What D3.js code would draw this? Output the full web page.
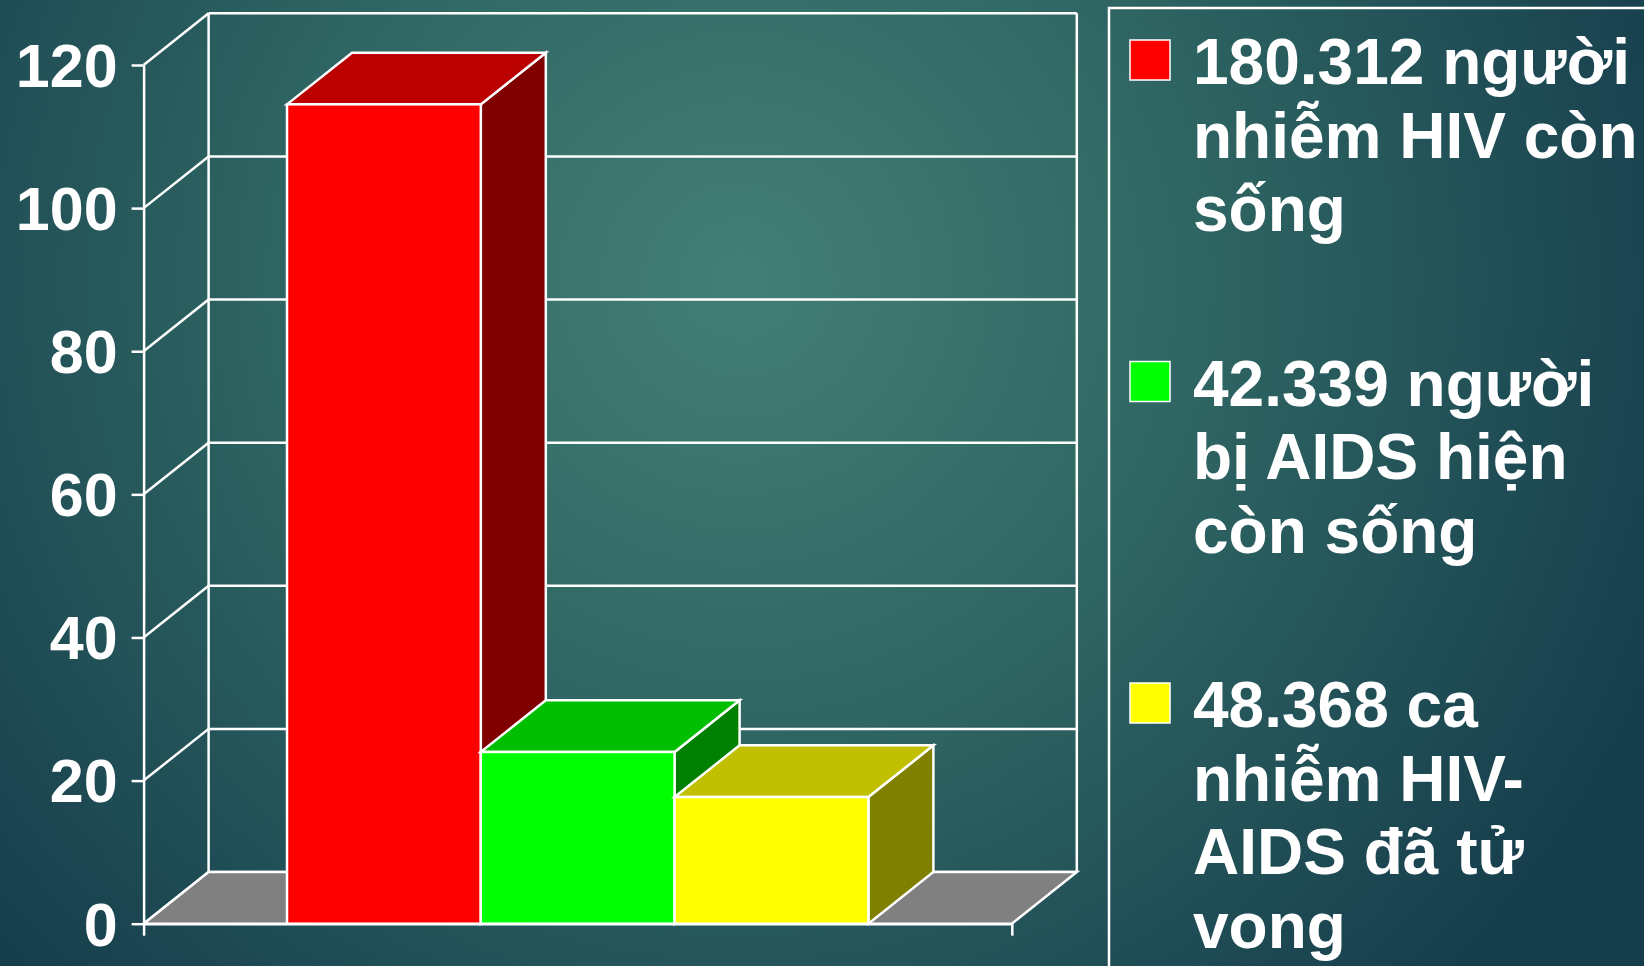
<!DOCTYPE html>
<html>
<head>
<meta charset="utf-8">
<script src="https://cdn.jsdelivr.net/npm/d3@7"></script>
<style>
  html, body { margin: 0; padding: 0; overflow: hidden; background: #1d4a55; }
  svg { display: block; }
  text { font-family: "Liberation Sans", Arial, sans-serif; font-weight: bold; }
</style>
</head>
<body>
<div id="chart"></div>
<script>
// data
const series = ["HIV còn sống", "AIDS còn sống", "Tử vong"];
const values = [114.5, 24.0, 17.7];
const yTicks = [0, 20, 40, 60, 80, 100, 120];
const legendLines = [
  ["180.312 người", "nhiễm HIV còn", "sống"],
  ["42.339 người", "bị AIDS hiện", "còn sống"],
  ["48.368 ca", "nhiễm HIV-", "AIDS đã tử", "vong"]
];

// colours: front, top, side faces
const frontColors = ["#ff0000", "#00ff00", "#ffff00"];
const topColors   = ["#bb0000", "#00bf00", "#c0c000"];
const sideColors  = ["#800000", "#008000", "#808000"];

const W = 1644, H = 966;
const x0 = 143.6, x1 = 1011.8;     // front floor edge
const yB = 923.7, yT = 65;         // front axis 0 and 120
const dx = 65, dy = 51.7;          // depth offset of the back wall
const lw = 2.5;

const svg = d3.select("#chart").append("svg")
  .attr("width", W).attr("height", H);

// background
const grad = svg.append("defs").append("radialGradient")
  .attr("id", "bg").attr("gradientUnits", "userSpaceOnUse")
  .attr("cx", 740).attr("cy", 280).attr("r", 1000);
grad.append("stop").attr("offset", 0).attr("stop-color", "#437f75");
grad.append("stop").attr("offset", 0.45).attr("stop-color", "#2f6663");
grad.append("stop").attr("offset", 1).attr("stop-color", "#163d4c");
svg.append("rect").attr("width", W).attr("height", H).attr("fill", "url(#bg)");

// scales
const y = d3.scaleLinear().domain([0, 120]).range([yB, yT]);
const xEdge = d3.scaleLinear().domain([0, 1]).range([x0, x1]);
const xBar = d3.scaleBand().domain(series).range([x0, x1])
  .paddingInner(0).paddingOuter(0.74);

// back wall grid lines and side wall diagonals
const grid = svg.append("g").attr("stroke", "#fff").attr("stroke-width", lw);
grid.selectAll("line.back").data(yTicks).join("line")
  .attr("class", "back")
  .attr("x1", x0 + dx).attr("x2", x1 + dx)
  .attr("y1", d => y(d) - dy).attr("y2", d => y(d) - dy);
grid.selectAll("line.side").data(yTicks).join("line")
  .attr("class", "side")
  .attr("x1", x0).attr("y1", d => y(d))
  .attr("x2", x0 + dx).attr("y2", d => y(d) - dy);
grid.selectAll("line.vert").data([x0 + dx, x1 + dx]).join("line")
  .attr("class", "vert")
  .attr("x1", d => d).attr("x2", d => d)
  .attr("y1", y(120) - dy).attr("y2", y(0) - dy);

// floor
svg.append("path")
  .attr("d", `M${x0},${yB}L${x1},${yB}L${x1 + dx},${yB - dy}L${x0 + dx},${yB - dy}Z`)
  .attr("fill", "#808080").attr("stroke", "#fff").attr("stroke-width", lw);

// axes
const yAxis = d3.axisLeft(y).tickValues(yTicks).tickSize(12).tickSizeOuter(0).tickPadding(14);
const yAxisDisplay = svg.append("g").attr("transform", `translate(${x0},0)`).call(yAxis);
yAxisDisplay.attr("color", "#fff").attr("font-size", 61)
  .attr("font-family", "'Liberation Sans', Arial, sans-serif");
yAxisDisplay.selectAll("line, path").attr("stroke-width", lw);
yAxisDisplay.selectAll("text").attr("dy", "0.35em").attr("font-weight", "bold");

const xAxis = d3.axisBottom(xEdge).tickValues([0, 1]).tickSize(12).tickSizeOuter(0).tickFormat("");
const xAxisDisplay = svg.append("g").attr("transform", `translate(0,${yB})`).call(xAxis);
xAxisDisplay.attr("color", "#fff");
xAxisDisplay.selectAll("line, path").attr("stroke-width", lw);

// 3D bars
const bw = xBar.bandwidth();
const bars = svg.selectAll("g.bar").data(series).join("g")
  .attr("class", "bar")
  .attr("stroke", "#fff").attr("stroke-width", lw).attr("stroke-linejoin", "miter");

bars.append("path") // side
  .attr("fill", (d, i) => sideColors[i])
  .attr("d", (d, i) => {
    const xr = xBar(d) + bw, yt = y(values[i]);
    return `M${xr},${yB}L${xr + dx},${yB - dy}L${xr + dx},${yt - dy}L${xr},${yt}Z`;
  });
bars.append("path") // top
  .attr("fill", (d, i) => topColors[i])
  .attr("d", (d, i) => {
    const xl = xBar(d), yt = y(values[i]);
    return `M${xl},${yt}L${xl + dx},${yt - dy}L${xl + bw + dx},${yt - dy}L${xl + bw},${yt}Z`;
  });
bars.append("rect") // front
  .attr("fill", (d, i) => frontColors[i])
  .attr("x", d => xBar(d)).attr("width", bw)
  .attr("y", (d, i) => y(values[i]))
  .attr("height", (d, i) => yB - y(values[i]));

// legend
const legend = svg.append("g");
legend.append("rect")
  .attr("x", 1109).attr("y", 8).attr("width", 700).attr("height", 1100)
  .attr("fill", "none").attr("stroke", "#fff").attr("stroke-width", lw);

const lineH = 73.5;
const itemY = d3.scalePoint().domain(series).range([84, 727]);
const items = legend.selectAll("g.item").data(series).join("g")
  .attr("class", "item")
  .attr("transform", d => `translate(0,${itemY(d)})`);
items.append("rect")
  .attr("x", 1130).attr("y", -44).attr("width", 40).attr("height", 40)
  .attr("fill", (d, i) => frontColors[i])
  .attr("stroke", "#fff").attr("stroke-width", 1.5);
items.append("text")
  .attr("fill", "#fff").attr("font-size", 64)
  .selectAll("tspan").data((d, i) => legendLines[i]).join("tspan")
  .attr("x", 1193).attr("y", (d, j) => j * lineH)
  .text(d => d);
</script>
</body>
</html>
